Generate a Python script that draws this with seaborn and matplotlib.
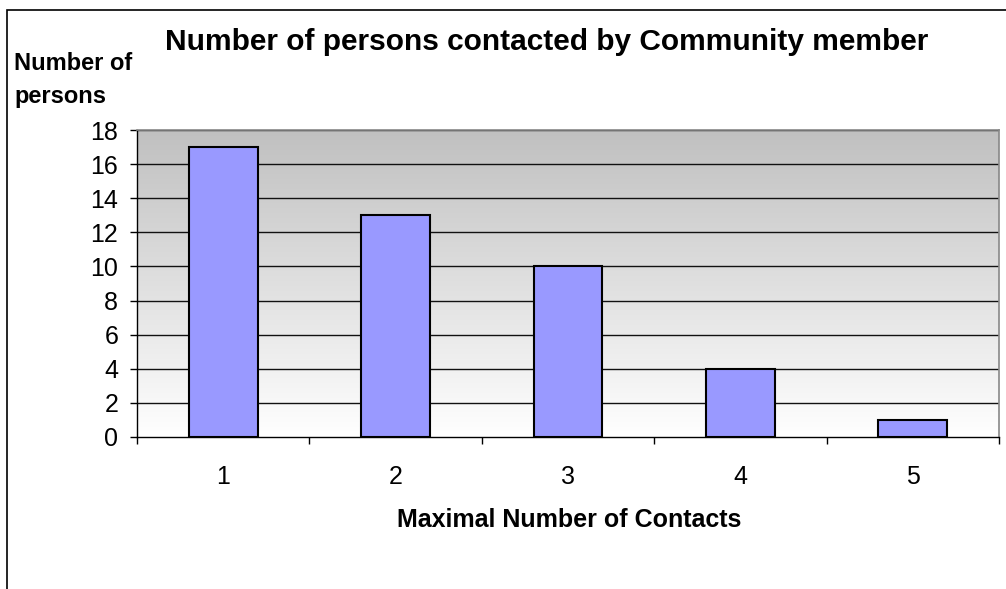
import matplotlib
matplotlib.use("Agg")
import matplotlib.pyplot as plt
import matplotlib.patches as mpatches
from matplotlib.colors import LinearSegmentedColormap
import numpy as np
import pandas as pd
import seaborn as sns

categories = ["1", "2", "3", "4", "5"]
values = [17, 13, 10, 4, 1]
yticks = [0, 2, 4, 6, 8, 10, 12, 14, 16, 18]

title = "Number of persons contacted by Community member"
ylabel = "Number of\npersons"
xlabel = "Maximal Number of Contacts"

sns.set_style("white")
plt.rcParams['font.family'] = ['Liberation Sans', 'DejaVu Sans']
plt.rcParams['text.color'] = 'black'
plt.rcParams['xtick.color'] = 'black'
plt.rcParams['ytick.color'] = 'black'

fig = plt.figure(figsize=(10.06, 5.89), dpi=100)
ax = fig.add_axes([137/1006, 1-437/589, (999-137)/1006, (437-130)/589])

df = pd.DataFrame({"cat": categories, "val": values})

# gradient background
cmap = LinearSegmentedColormap.from_list("g", ["#ffffff", "#c0c0c0"])
grad = np.linspace(0, 1, 256).reshape(-1, 1)
ax.imshow(grad, extent=[-0.5, 4.5, 0, 18], origin="lower", aspect="auto",
          cmap=cmap, zorder=0)

for y in yticks[1:]:
    ax.axhline(y, color="#111111", lw=1, zorder=1)

sns.barplot(data=df, x="cat", y="val", color="#9999ff", saturation=1,
            edgecolor="black", linewidth=1.5, width=0.4, ax=ax, zorder=2)

ax.set_xlim(-0.5, 4.5)
ax.set_ylim(0, 18)
ax.set_yticks(yticks)
ax.set_yticklabels([str(v) for v in yticks], fontsize=18)
ax.tick_params(axis="y", direction="out", length=5, width=1, pad=8.5, color="black", left=True)
ax.set_xticks(range(len(categories)))
ax.set_xticklabels(categories, fontsize=18)
ax.set_xticks(np.arange(-0.5, 5, 1), minor=True)
ax.tick_params(axis="x", which="major", length=0, pad=20, bottom=True)
ax.tick_params(axis="x", which="minor", direction="out", length=5, width=1, color="black", bottom=True)
ax.set_xlabel("")
ax.set_ylabel("")

for s in ["left", "bottom"]:
    ax.spines[s].set_color("black")
    ax.spines[s].set_linewidth(1)
for s in ["top", "right"]:
    ax.spines[s].set_color("#888888")
    ax.spines[s].set_linewidth(1.2)

fig.text(547/1006, 1-50/589, title, ha="center", va="baseline",
         fontsize=21.5, fontweight="bold")
fig.text(14/1006, 1-70/589, "Number of", ha="left", va="baseline",
         fontsize=17, fontweight="bold")
fig.text(14/1006, 1-103/589, "persons", ha="left", va="baseline",
         fontsize=17, fontweight="bold")
fig.text(569/1006, 1-527/589, xlabel, ha="center", va="baseline",
         fontsize=18, fontweight="bold")

border = mpatches.Rectangle((7/1006, -0.1), 1.2, 1 - 10/589 + 0.1,
                            transform=fig.transFigure, fill=False,
                            edgecolor="black", lw=1.2)
fig.patches.append(border)

fig.savefig("out.png", dpi=100)
